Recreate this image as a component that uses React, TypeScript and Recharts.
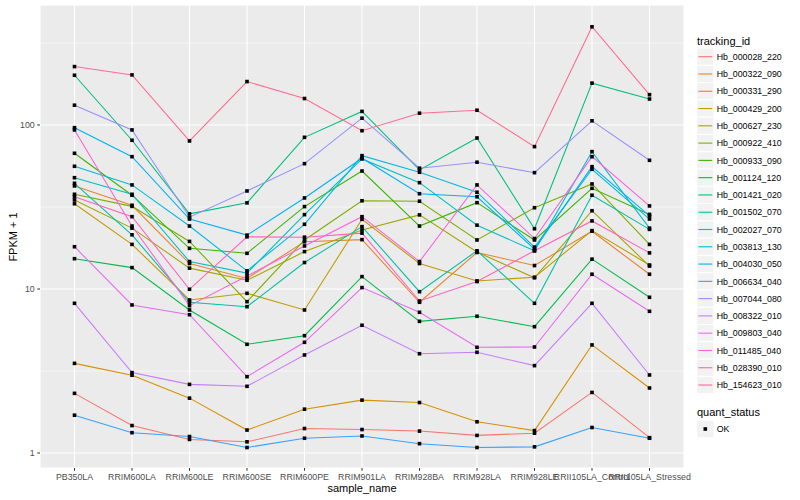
import React from "react";
import { LineChart, Line, XAxis, YAxis, CartesianGrid, ReferenceLine, Legend } from "recharts";

// samples on the x axis
const samples = [
  "PB350LA",
  "RRIM600LA",
  "RRIM600LE",
  "RRIM600SE",
  "RRIM600PE",
  "RRIM901LA",
  "RRIM928BA",
  "RRIM928LA",
  "RRIM928LE",
  "RRII105LA_Control",
  "RRII105LA_Stressed",
];

const trackingIds = [
  "Hb_000028_220", "Hb_000322_090", "Hb_000331_290", "Hb_000429_200", "Hb_000627_230",
  "Hb_000922_410", "Hb_000933_090", "Hb_001124_120", "Hb_001421_020", "Hb_001502_070",
  "Hb_002027_070", "Hb_003813_130", "Hb_004030_050", "Hb_006634_040", "Hb_007044_080",
  "Hb_008322_010", "Hb_009803_040", "Hb_011485_040", "Hb_028390_010", "Hb_154623_010",
];

// ggplot hue palette, 20 levels
const colors = [
  "#F8766D", "#EA8331", "#D89000", "#C09B00", "#A3A500",
  "#7CAE00", "#39B600", "#00BB4E", "#00BF7D", "#00C1A3",
  "#00BFC4", "#00BAE0", "#00B0F6", "#35A2FF", "#9590FF",
  "#C77CFF", "#E76BF3", "#FA62DB", "#FF62BC", "#FF6C91",
];

// FPKM + 1 per sample
const hb000028 = [2.31, 1.47, 1.21, 1.17, 1.41, 1.39, 1.36, 1.28, 1.32, 2.34, 1.24];
const hb000322 = [42.5, 32.4, 14.3, 11.6, 19.4, 20.0, 8.3, 16.7, 13.9, 22.5, 12.3];
const hb000331 = [3.52, 2.98, 2.16, 1.38, 1.85, 2.1, 2.03, 1.55, 1.37, 4.56, 2.49];
const hb000429 = [33.1, 18.7, 8.57, 9.41, 7.45, 26.6, 14.3, 11.2, 11.8, 22.7, 14.0];
const hb000627 = [34.9, 23.5, 13.4, 11.3, 16.9, 22.9, 28.3, 16.8, 11.7, 30.0, 13.8];
const hb000922 = [37.8, 31.9, 19.5, 8.37, 19.9, 34.5, 34.3, 19.9, 31.3, 43.7, 18.7];
const hb000933 = [67.2, 37.3, 17.7, 16.5, 31.8, 52.4, 24.2, 33.6, 19.9, 41.1, 28.5];
const hb001124 = [15.3, 13.5, 7.45, 4.6, 5.19, 11.9, 6.35, 6.82, 5.89, 15.2, 8.9];
const hb001421 = [201, 80.7, 28.7, 33.5, 84.1, 121, 53.2, 83.3, 23.3, 180, 144];
const hb001502 = [44.1, 21.4, 8.3, 7.8, 14.5, 24.0, 9.63, 17.1, 8.18, 37.3, 23.1];
const hb002027 = [47.7, 37.8, 14.7, 12.5, 28.4, 62.1, 44.5, 24.5, 17.1, 68.8, 23.5];
const hb003813 = [56.0, 43.1, 24.2, 12.9, 24.8, 65.0, 51.5, 38.9, 18.0, 53.7, 26.7];
const hb004030 = [96.3, 64.1, 26.7, 21.3, 35.9, 62.7, 38.1, 36.5, 17.5, 55.7, 27.9];
const hb006634 = [1.7, 1.33, 1.26, 1.08, 1.23, 1.27, 1.14, 1.08, 1.09, 1.43, 1.23];
const hb007044 = [132, 93.3, 27.4, 39.6, 58.1, 110, 54.5, 59.3, 51.2, 106, 60.9];
const hb008322 = [8.18, 3.09, 2.62, 2.55, 3.96, 6.01, 4.03, 4.11, 3.41, 8.18, 2.99];
const hb009803 = [18.1, 7.99, 6.97, 2.92, 4.73, 10.2, 7.21, 4.41, 4.43, 12.3, 7.31];
const hb011485 = [93.3, 24.2, 7.91, 12.0, 18.3, 27.6, 14.7, 43.1, 20.3, 64.1, 32.1];
const hb028390 = [36.5, 27.6, 9.96, 20.8, 20.7, 21.9, 8.45, 11.1, 17.1, 26.0, 16.6];
const hb154623 = [227, 202, 79.9, 184, 145, 92.3, 118, 123, 73.8, 397, 153];

const seriesValues = [
  hb000028, hb000322, hb000331, hb000429, hb000627,
  hb000922, hb000933, hb001124, hb001421, hb001502,
  hb002027, hb003813, hb004030, hb006634, hb007044,
  hb008322, hb009803, hb011485, hb028390, hb154623,
];

const yTicks = [1, 10, 100];
const yMinorTicks = [3.162, 31.62, 316.2];

const chartData = samples.map((name, i) => {
  const row: Record<string, string | number> = { name };
  trackingIds.forEach((id, k) => {
    row[id] = seriesValues[k][i];
  });
  return row;
});

const FONT = '"Liberation Sans", Arial, Helvetica, sans-serif';

const SquareDot = (props: any) => {
  const { cx, cy } = props;
  if (cx == null || cy == null) return null;
  return <rect x={cx - 1.8} y={cy - 1.8} width={3.6} height={3.6} fill="#000" />;
};

const KEY = 17.28;

const LegendBox = () => (
  <svg width={110} height={420} style={{ fontFamily: FONT, display: "block" }}>
    <text x={7} y={24.6} fontSize={11} fill="#000">tracking_id</text>
    {trackingIds.map((id, i) => {
      const cy = 36.7 + i * KEY;
      return (
        <g key={id}>
          <rect x={6.7} y={cy - KEY / 2} width={KEY} height={KEY} fill="#F2F2F2" stroke="#fff" strokeWidth={1} />
          <line x1={8.4} x2={22.3} y1={cy} y2={cy} stroke={colors[i]} strokeWidth={1.1} />
          <text x={26.7} y={cy + 3.2} fontSize={8.8} fill="#000">{id}</text>
        </g>
      );
    })}
    <text x={7} y={396} fontSize={11} fill="#000">quant_status</text>
    <rect x={6.7} y={409 - KEY / 2} width={KEY} height={KEY} fill="#F2F2F2" stroke="#fff" strokeWidth={1} />
    <rect x={13.5} y={407.2} width={3.6} height={3.6} fill="#000" />
    <text x={26.7} y={412.2} fontSize={8.8} fill="#000">OK</text>
  </svg>
);

export default function App() {
  return (
    <div style={{ position: "absolute", left: 0, top: 0, width: 800, height: 500, background: "#fff", fontFamily: FONT }}>
      <LineChart
        width={800}
        height={500}
        data={chartData}
        margin={{ top: 5, right: 116, bottom: 0, left: 0 }}
        style={{ fontFamily: FONT }}
      >
        <CartesianGrid fill="#EBEBEB" stroke="#FFFFFF" strokeWidth={1.07} />
        {yMinorTicks.map((v) => (
          <ReferenceLine key={v} y={v} stroke="#FFFFFF" strokeWidth={0.53} />
        ))}
        <XAxis
          dataKey="name"
          interval={0}
          height={32}
          padding={{ left: 34.5, right: 34.5 }}
          axisLine={false}
          tickSize={2.75}
          tickMargin={3}
          tickLine={{ stroke: "#333333" }}
          tick={{ fontSize: 8.8, fill: "#4D4D4D" }}
        />
        <YAxis
          scale="log"
          domain={[0.81, 539]}
          allowDataOverflow
          ticks={yTicks}
          width={40}
          axisLine={false}
          tickSize={2.75}
          tickMargin={2.5}
          tickLine={{ stroke: "#333333" }}
          tick={{ fontSize: 8.8, fill: "#4D4D4D" }}
          tickFormatter={(v: number) => String(v)}
        />
        {trackingIds.map((id, i) => (
          <Line
            key={id}
            dataKey={id}
            type="linear"
            stroke={colors[i]}
            strokeWidth={1.07}
            dot={false}
            activeDot={false}
            isAnimationActive={false}
          />
        ))}
        {trackingIds.map((id) => (
          <Line
            key={`${id}-pts`}
            dataKey={id}
            type="linear"
            stroke="none"
            legendType="none"
            dot={<SquareDot />}
            activeDot={false}
            isAnimationActive={false}
          />
        ))}
        <Legend
          layout="vertical"
          align="center"
          verticalAlign="middle"
          content={() => <LegendBox />}
          wrapperStyle={{ left: 690, top: 20, width: 110, height: 420 }}
        />
      </LineChart>
      <div
        style={{
          position: "absolute",
          left: 12.5,
          top: 236.5,
          transform: "translate(-50%, -50%) rotate(-90deg)",
          fontSize: 11,
          whiteSpace: "nowrap",
          color: "#000",
        }}
      >
        FPKM + 1
      </div>
      <div
        style={{
          position: "absolute",
          left: 362,
          top: 488,
          transform: "translate(-50%, -50%)",
          fontSize: 11,
          whiteSpace: "nowrap",
          color: "#000",
        }}
      >
        sample_name
      </div>
    </div>
  );
}
